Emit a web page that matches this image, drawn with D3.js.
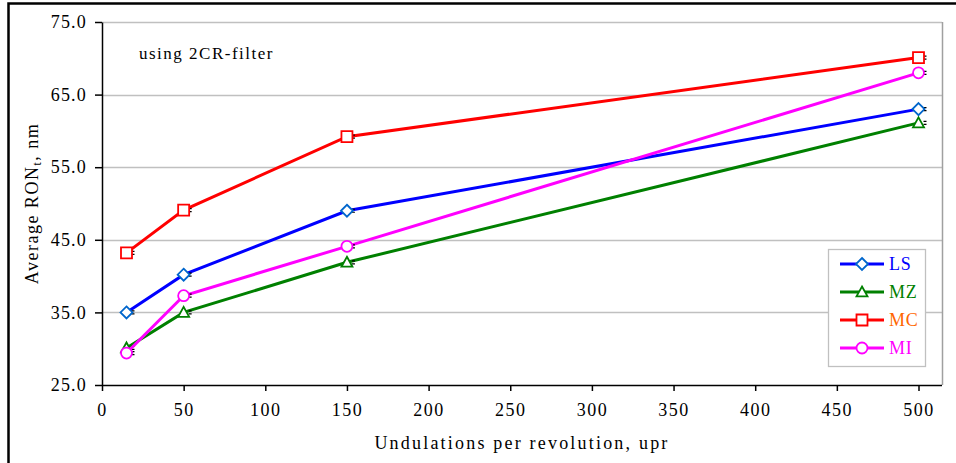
<!DOCTYPE html>
<html>
<head>
<meta charset="utf-8">
<script src="https://cdn.jsdelivr.net/npm/d3@7"></script>
<style>
  body { margin: 0; background: #fff; }
  text { font-family: "Liberation Serif", "Times New Roman", serif; }
</style>
</head>
<body>
<div id="chart"></div>
<script>
// data
const upr = [15, 50, 150, 500];
const lsValues = [35.0, 40.2, 49.0, 63.0];
const mzValues = [30.1, 35.0, 41.9, 61.1];
const mcValues = [43.2, 49.1, 59.2, 70.1];
const miValues = [29.4, 37.3, 44.1, 68.0];
const xTicks = [0, 50, 100, 150, 200, 250, 300, 350, 400, 450, 500];
const yTicks = [25, 35, 45, 55, 65, 75];

const series = [
  { name: 'LS', values: lsValues, line: '#0000ff', marker: '#0066cc', label: '#0000ff', shape: 'diamond' },
  { name: 'MZ', values: mzValues, line: '#008000', marker: '#008000', label: '#008000', shape: 'triangle' },
  { name: 'MC', values: mcValues, line: '#ff0000', marker: '#ff0000', label: '#ff6600', shape: 'square' },
  { name: 'MI', values: miValues, line: '#ff00ff', marker: '#ff00ff', label: '#ff00ff', shape: 'circle' }
];

const W = 956, H = 463;
const plot = { left: 102, top: 22, right: 942, bottom: 385 };

const svg = d3.select('#chart').append('svg')
  .attr('width', W).attr('height', H);

// outer frame
svg.append('rect')
  .attr('x', 8.5).attr('y', 3.5)
  .attr('width', 980).attr('height', 500)
  .attr('fill', 'none').attr('stroke', '#000').attr('stroke-width', 2.5);

const x = d3.scaleLinear().domain([0, 500]).range([plot.left, 918.5]);
const y = d3.scaleLinear().domain([25, 75]).range([plot.bottom, plot.top]);

// gridlines
svg.append('g').selectAll('line')
  .data(yTicks.filter(d => d > 25))
  .join('line')
  .attr('x1', plot.left).attr('x2', plot.right)
  .attr('y1', d => Math.round(y(d)) + 0.5).attr('y2', d => Math.round(y(d)) + 0.5)
  .attr('stroke', '#c0c0c0').attr('stroke-width', 1.3);

// plot area border (right side)
svg.append('line')
  .attr('x1', plot.right + 0.5).attr('x2', plot.right + 0.5)
  .attr('y1', plot.top).attr('y2', plot.bottom)
  .attr('stroke', '#a0a0a0').attr('stroke-width', 1.5);

// axes
const xAxis = svg.append('g')
  .attr('transform', `translate(0,${plot.bottom})`)
  .call(d3.axisBottom(x).tickValues(xTicks).tickSize(6).tickSizeOuter(0).tickPadding(12));
xAxis.select('.domain').attr('d', `M${plot.left},0.5H${plot.right}`).attr('stroke-width', 1.5);
xAxis.selectAll('.tick line').attr('stroke-width', 1.5);
xAxis.selectAll('text').attr('font-size', 18).attr('letter-spacing', 1.5).attr('fill', '#000');

const yAxis = svg.append('g')
  .attr('transform', `translate(${plot.left},0)`)
  .call(d3.axisLeft(y).tickValues(yTicks).tickFormat(d3.format('.1f')).tickSize(7).tickSizeOuter(0).tickPadding(8));
yAxis.select('.domain').attr('stroke-width', 1.5);
yAxis.selectAll('.tick line').attr('stroke-width', 1.5);
yAxis.selectAll('text').attr('font-size', 18).attr('letter-spacing', 1.2).attr('fill', '#000');
xAxis.select('.domain').raise();

// axis titles
svg.append('text')
  .attr('x', (plot.left + plot.right) / 2).attr('y', 449)
  .attr('text-anchor', 'middle').attr('font-size', 18).attr('letter-spacing', 2.2)
  .text('Undulations per revolution, upr');

const yTitle = svg.append('text')
  .attr('transform', `translate(38,${(plot.top + plot.bottom) / 2}) rotate(-90)`)
  .attr('text-anchor', 'middle').attr('font-size', 18).attr('letter-spacing', 1.5);
yTitle.append('tspan').text('Average RON');
yTitle.append('tspan').attr('font-size', 12).attr('dy', 3).text('t');
yTitle.append('tspan').attr('dy', -3).text(', nm');

svg.append('text')
  .attr('x', 139).attr('y', 59).attr('font-size', 17).attr('letter-spacing', 1.5)
  .text('using 2CR-filter');

// marker paths
function markerPath(shape, s) {
  if (shape === 'diamond') return `M0,${-s}L${s},0L0,${s}L${-s},0Z`;
  if (shape === 'triangle') return `M0,${-s}L${s},${s * 0.8}L${-s},${s * 0.8}Z`;
  if (shape === 'square') return `M${-s},${-s}H${s}V${s}H${-s}Z`;
  return d3.arc()({ innerRadius: 0, outerRadius: s, startAngle: 0, endAngle: 2 * Math.PI });
}

const line = d3.line().x((d, i) => x(upr[i])).y(d => y(d));

series.forEach(s => {
  const g = svg.append('g');
  g.append('path')
    .attr('d', line(s.values))
    .attr('fill', 'none').attr('stroke', s.line).attr('stroke-width', 3);
  // small error bar caps
  g.selectAll('.err')
    .data(s.values)
    .join('path')
    .attr('d', (d, i) => {
      const cx = x(upr[i]), cy = y(d);
      return `M${cx + 5},${cy - 1.5}H${cx + 8}M${cx + 5},${cy + 1.5}H${cx + 8}`;
    })
    .attr('stroke', '#000').attr('stroke-width', 1.2);
  g.selectAll('.mk')
    .data(s.values)
    .join('path')
    .attr('transform', (d, i) => `translate(${x(upr[i])},${y(d)})`)
    .attr('d', markerPath(s.shape, s.shape === 'diamond' ? 6 : 5.5))
    .attr('fill', '#fff').attr('stroke', s.marker).attr('stroke-width', 1.8);
});

// legend
const legend = svg.append('g').attr('transform', 'translate(828,249)');
legend.append('rect')
  .attr('x', 0.5).attr('y', 0.5).attr('width', 97).attr('height', 117)
  .attr('fill', '#fff').attr('stroke', '#c0c0c0').attr('stroke-width', 1.3);
series.forEach((s, i) => {
  const row = legend.append('g').attr('transform', `translate(0,${15 + i * 28})`);
  row.append('line')
    .attr('x1', 12).attr('x2', 56).attr('y1', 0).attr('y2', 0)
    .attr('stroke', s.line).attr('stroke-width', 3);
  row.append('path')
    .attr('transform', 'translate(34,0)')
    .attr('d', markerPath(s.shape, s.shape === 'diamond' ? 6 : 5.5))
    .attr('fill', '#fff').attr('stroke', s.marker).attr('stroke-width', 1.8);
  row.append('text')
    .attr('x', 61).attr('y', 6).attr('font-size', 18).attr('letter-spacing', 0.8)
    .attr('fill', s.label)
    .text(s.name);
});
</script>
</body>
</html>
